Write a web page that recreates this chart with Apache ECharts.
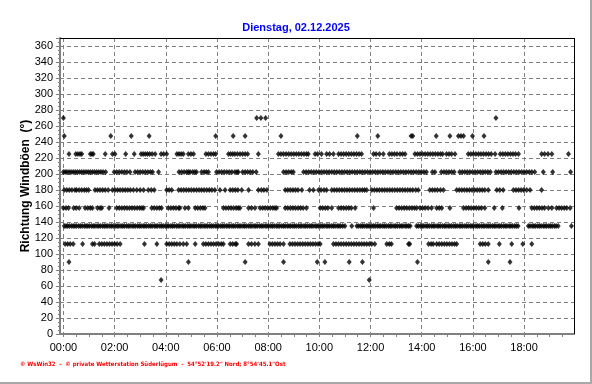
<!DOCTYPE html>
<html><head><meta charset="utf-8">
<script src="https://cdn.jsdelivr.net/npm/echarts@6/dist/echarts.min.js"></script>
<style>html,body{margin:0;padding:0;background:#fff}#c{width:592px;height:384px}</style>
</head><body><div id="c"></div>
<script>
// ---- texts ----
const titleText = 'Dienstag, 02.12.2025';
const yAxisName = 'Richtung Windböen  (°)';
const footerText = '\u00A9 WsWin32  -  \u00A9 private Wetterstation Süderlügum  -  54°52\'19.2" Nord; 8°54\'45.1"Ost';

// ---- axes (time in minutes after midnight) ----
const xMin = -8, xMax = 1197;
const xLabelMinutes = [0, 120, 240, 360, 480, 600, 720, 840, 960, 1080];
const xTickMinutes = [0,30,60,90,120,150,180,210,240,270,300,330,360,390,420,450,480,510,540,570,600,630,660,690,720,750,780,810,840,870,900,930,960,990,1020,1050,1080,1110,1140,1170];
const yMin = 0, yMax = 370, yInterval = 20;

// ---- data: gust direction (deg) -> times (minutes) where it was observed ----
const t270 = [0, 453, 463, 474, 1014];
const t2475 = [2, 111, 159, 201, 357, 398, 426, 510, 689, 737, 815, 819, 874, 906, 926, 932, 938, 959, 986];
const t225 = [13, 29, 34, 39, 43, 63, 67, 70, 98, 115, 121, 146, 166, 182, 187, 192, 197, 202, 208, 215, 229, 235, 242, 266, 271, 276, 281, 293, 299, 305, 334, 340, 346, 352, 357, 387, 392, 397, 402, 408, 414, 420, 426, 432, 457, 504, 510, 516, 522, 528, 534, 540, 546, 552, 558, 564, 570, 574, 590, 596, 605, 617, 624, 633, 645, 651, 657, 663, 669, 675, 681, 687, 693, 699, 727, 733, 741, 750, 764, 770, 776, 782, 789, 795, 801, 824, 830, 836, 842, 848, 854, 860, 866, 872, 878, 884, 889, 898, 904, 910, 918, 949, 955, 961, 967, 973, 979, 985, 991, 997, 1003, 1012, 1024, 1030, 1036, 1042, 1048, 1054, 1060, 1067, 1121, 1128, 1136, 1145, 1184];
const t2025 = [0, 4, 8, 13, 18, 23, 28, 33, 38, 43, 48, 53, 58, 63, 68, 73, 78, 83, 88, 93, 99, 119, 125, 131, 137, 143, 149, 156, 168, 174, 180, 186, 192, 198, 204, 209, 223, 271, 277, 283, 289, 293, 297, 303, 308, 312, 324, 330, 335, 340, 359, 365, 371, 377, 383, 389, 395, 402, 407, 410, 420, 426, 432, 438, 444, 452, 516, 522, 528, 534, 539, 563, 569, 575, 581, 587, 593, 599, 605, 611, 617, 623, 629, 635, 641, 647, 653, 659, 665, 671, 677, 683, 689, 695, 701, 707, 713, 719, 725, 731, 737, 743, 749, 755, 761, 767, 773, 779, 785, 791, 797, 803, 809, 815, 821, 827, 833, 839, 845, 851, 865, 871, 886, 892, 898, 904, 910, 916, 929, 935, 941, 947, 953, 959, 965, 971, 977, 983, 989, 995, 1001, 1014, 1020, 1026, 1032, 1038, 1044, 1050, 1056, 1062, 1068, 1074, 1080, 1086, 1092, 1098, 1105, 1125, 1147, 1189];
const t180 = [2, 8, 14, 20, 27, 31, 37, 43, 49, 54, 59, 74, 80, 86, 92, 98, 105, 115, 121, 127, 133, 139, 145, 151, 157, 164, 172, 180, 188, 199, 206, 213, 242, 248, 254, 270, 276, 282, 288, 294, 300, 306, 312, 318, 324, 330, 336, 342, 348, 355, 367, 379, 391, 397, 403, 409, 418, 434, 457, 464, 470, 477, 520, 526, 532, 538, 544, 550, 559, 577, 586, 598, 604, 611, 617, 629, 635, 641, 647, 653, 659, 665, 671, 677, 683, 689, 695, 701, 706, 711, 723, 729, 735, 741, 747, 753, 759, 765, 771, 777, 783, 789, 795, 801, 807, 813, 819, 826, 832, 859, 865, 871, 877, 884, 891, 922, 928, 934, 940, 946, 952, 958, 964, 970, 976, 982, 988, 996, 1016, 1023, 1031, 1055, 1061, 1067, 1073, 1079, 1086, 1094, 1121];
const t1575 = [0, 6, 12, 24, 30, 37, 51, 57, 63, 68, 80, 86, 90, 107, 125, 131, 137, 143, 149, 155, 161, 167, 173, 179, 184, 188, 207, 213, 219, 225, 230, 246, 252, 258, 264, 270, 273, 285, 293, 309, 315, 321, 327, 332, 375, 381, 387, 393, 399, 405, 410, 414, 434, 441, 449, 461, 467, 473, 479, 485, 491, 496, 500, 520, 526, 532, 538, 544, 550, 556, 562, 570, 602, 608, 614, 620, 629, 645, 651, 657, 663, 669, 675, 684, 727, 781, 787, 793, 799, 805, 811, 817, 823, 828, 836, 842, 848, 855, 863, 875, 881, 887, 906, 938, 944, 950, 956, 962, 968, 974, 980, 988, 1010, 1029, 1068, 1098, 1104, 1110, 1116, 1122, 1128, 1137, 1145, 1156, 1162, 1168, 1174, 1180, 1188];
const t135 = [2, 6, 10, 14, 19, 23, 27, 31, 36, 40, 44, 49, 53, 57, 61, 66, 70, 74, 79, 83, 87, 92, 96, 100, 104, 109, 113, 117, 122, 126, 130, 135, 139, 143, 148, 152, 156, 161, 165, 169, 174, 178, 182, 187, 191, 195, 200, 204, 208, 213, 217, 221, 226, 230, 234, 239, 243, 247, 252, 256, 260, 265, 269, 273, 278, 282, 286, 291, 295, 299, 304, 308, 312, 317, 321, 325, 330, 334, 338, 343, 347, 351, 356, 360, 364, 369, 373, 377, 382, 386, 390, 395, 399, 403, 408, 412, 416, 421, 425, 429, 434, 438, 442, 447, 451, 455, 460, 464, 468, 473, 477, 481, 486, 490, 494, 499, 503, 507, 512, 516, 520, 525, 529, 533, 538, 542, 546, 551, 555, 559, 564, 568, 572, 577, 581, 585, 590, 594, 598, 603, 607, 611, 616, 620, 624, 629, 633, 637, 642, 646, 650, 655, 660, 676, 688, 692, 697, 701, 705, 710, 714, 718, 723, 727, 731, 736, 740, 744, 749, 753, 757, 762, 766, 770, 775, 779, 783, 788, 792, 796, 801, 805, 809, 813, 828, 832, 837, 841, 845, 850, 854, 858, 863, 867, 871, 876, 880, 884, 889, 893, 897, 902, 906, 910, 915, 919, 923, 928, 932, 936, 941, 945, 949, 954, 958, 962, 967, 971, 975, 980, 984, 988, 993, 997, 1001, 1006, 1010, 1014, 1019, 1023, 1027, 1032, 1036, 1040, 1045, 1049, 1053, 1058, 1062, 1066, 1090, 1094, 1099, 1103, 1107, 1112, 1116, 1120, 1125, 1129, 1133, 1138, 1142, 1146, 1151, 1155, 1160, 1191];
const t1125 = [4, 10, 16, 23, 45, 68, 73, 84, 90, 96, 102, 108, 114, 120, 126, 133, 190, 219, 242, 248, 254, 260, 266, 273, 281, 289, 309, 328, 334, 340, 346, 352, 358, 364, 370, 375, 391, 397, 403, 406, 434, 441, 449, 457, 484, 490, 496, 502, 508, 516, 531, 537, 543, 549, 555, 561, 567, 573, 579, 585, 591, 597, 602, 633, 639, 645, 651, 657, 663, 669, 675, 681, 687, 693, 699, 705, 711, 717, 723, 730, 758, 764, 769, 809, 812, 856, 862, 867, 875, 881, 887, 893, 899, 905, 911, 917, 922, 977, 983, 989, 996, 1022, 1051, 1077, 1098];
const t90 = [13, 293, 426, 516, 595, 613, 670, 701, 830, 996, 1047];
const t675 = [229, 717];

const rows = [
  [270, t270], [247.5, t2475], [225, t225], [202.5, t2025], [180, t180],
  [157.5, t1575], [135, t135], [112.5, t1125], [90, t90], [67.5, t675]
];
const points = [];
rows.forEach(([dir, times]) => times.forEach(t => points.push([t, dir])));

function fmtTime(v) {
  const h = Math.floor(v / 60), m = Math.round(v - h * 60);
  return String(h).padStart(2, '0') + ':' + String(m).padStart(2, '0');
}

const FONT = 'Liberation Sans, Arial, sans-serif';
const GRID = {left: 60, right: 18, top: 38, bottom: 50};

const chart = echarts.init(document.getElementById('c'), null, {renderer: 'canvas'});
chart.setOption({
  animation: false,
  backgroundColor: '#ffffff',
  title: {
    text: titleText, left: 'center', top: 17,
    textStyle: {color: '#0000ff', fontSize: 11, fontWeight: 'bold', fontFamily: FONT}
  },
  grid: Object.assign({show: false}, GRID),
  xAxis: [{
    type: 'value', min: xMin, max: xMax, position: 'bottom',
    axisLine: {show: true, onZero: false, lineStyle: {color: '#808080', width: 2}},
    axisTick: {show: true, customValues: xTickMinutes, length: 3, lineStyle: {color: '#808080'}},
    axisLabel: {customValues: xLabelMinutes, formatter: fmtTime, margin: 8, fontSize: 11, color: '#000', fontFamily: FONT},
    splitLine: {show: false}
  }, {
    type: 'value', min: xMin, max: xMax, position: 'bottom',
    axisLine: {show: false},
    axisTick: {show: false, customValues: xLabelMinutes},
    axisLabel: {show: false},
    splitLine: {show: true, lineStyle: {color: '#808080', width: 1, type: [4, 3]}}
  }],
  yAxis: {
    type: 'value', min: yMin, max: yMax, interval: yInterval,
    name: yAxisName, nameLocation: 'middle', nameGap: 28, nameMoveOverlap: false,
    nameTextStyle: {fontSize: 12, fontWeight: 'bold', color: '#000', fontFamily: FONT},
    axisLine: {show: true, onZero: false, lineStyle: {color: '#808080', width: 2}},
    axisTick: {show: true, length: 4, lineStyle: {color: '#808080'}},
    minorTick: {show: true, splitNumber: 4, length: 2, lineStyle: {color: '#808080'}},
    axisLabel: {showMaxLabel: false, margin: 7, fontSize: 11, color: '#000', fontFamily: FONT},
    splitLine: {show: true, lineStyle: {color: '#808080', width: 1, type: [4, 3]}}
  },
  series: [{
    type: 'scatter', xAxisIndex: 0, yAxisIndex: 0,
    symbol: 'diamond', symbolSize: [5, 6],
    itemStyle: {color: '#000000'},
    data: points, z: 5
  }],
  graphic: [
    {type: 'line', z: 100, shape: {x1: GRID.left, y1: GRID.top + 0.5, x2: 592 - GRID.right + 0.5, y2: GRID.top + 0.5}, style: {stroke: '#000', lineWidth: 1}},
    {type: 'line', z: 100, shape: {x1: 592 - GRID.right + 0.5, y1: GRID.top, x2: 592 - GRID.right + 0.5, y2: 384 - GRID.bottom}, style: {stroke: '#000', lineWidth: 1}},
    {type: 'rect', z: 100, shape: {x: 590, y: 0, width: 2, height: 384}, style: {fill: '#a8a8a8'}},
    {type: 'rect', z: 100, shape: {x: 0, y: 382, width: 592, height: 2}, style: {fill: '#a8a8a8'}},
    {type: 'text', z: 100, left: 20, top: 361,
      style: {text: footerText, fill: '#ff0000', font: 'bold 6px "DejaVu Sans Condensed", "DejaVu Sans", sans-serif'}}
  ]
});
</script>
</body></html>
